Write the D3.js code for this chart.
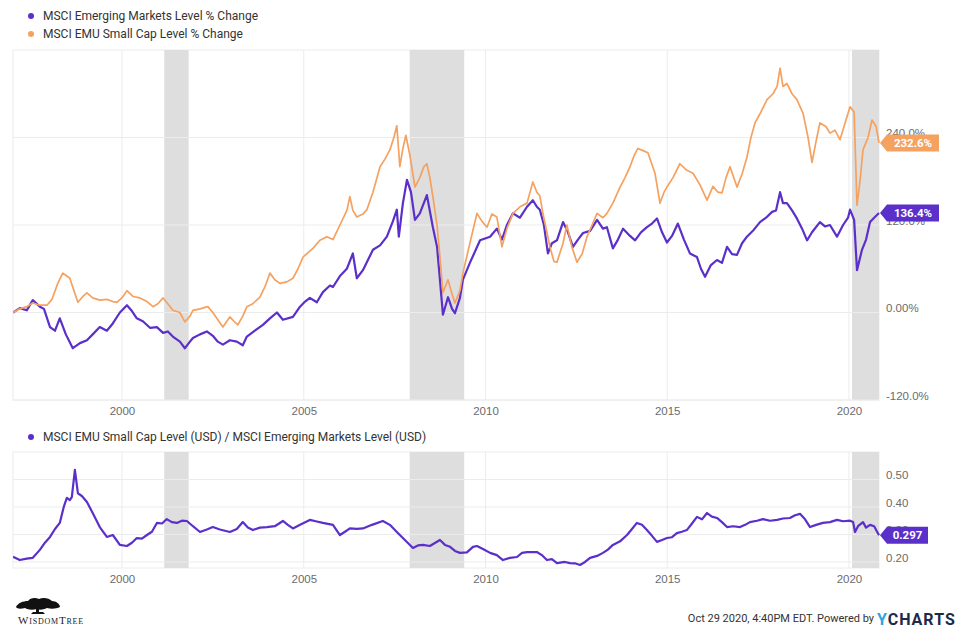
<!DOCTYPE html>
<html>
<head>
<meta charset="utf-8">
<script src="https://cdn.jsdelivr.net/npm/d3@7"></script>
<style>
  html, body { margin: 0; padding: 0; background: #fff; }
  svg { display: block; font-family: Roboto, "Noto Sans", "Liberation Sans", sans-serif; }
</style>
</head>
<body>
<svg id="chart" width="962" height="630"></svg>
<script>
// ---------------- DATA ----------------
const legendTop = ["MSCI Emerging Markets Level % Change", "MSCI EMU Small Cap Level % Change"];
const legendBottom = "MSCI EMU Small Cap Level (USD) / MSCI Emerging Markets Level (USD)";
const xTickYears = [2000, 2005, 2010, 2015, 2020];
const topTicks = [-120, 0, 120, 240];
const topTickLabels = ["-120.0%", "0.00%", "120.0%", "240.0%"];
const bottomTicks = [0.2, 0.3, 0.4, 0.5];
const bottomTickLabels = ["0.20", "0.30", "0.40", "0.50"];
const recessions = [["2001-03-01", "2001-11-01"], ["2007-12-01", "2009-06-01"], ["2020-02-01", "2020-10-29"]];
const footerText = "Oct 29 2020, 4:40PM EDT. Powered by";

// MSCI Emerging Markets level % change
const emSeries = [
["1997-01-01",0],["1997-03-10",6],["1997-05-19",3],["1997-07-19",17],["1997-09-28",8],["1997-11-08",5],
["1998-01-08",-20],["1998-02-27",-25],["1998-04-16",-8],["1998-06-16",-30],["1998-08-25",-49],["1998-11-05",-42],
["1999-01-14",-38],["1999-03-13",-30],["1999-05-23",-20],["1999-08-02",-25],["1999-10-01",-15],["1999-12-11",0],
["2000-02-20",10],["2000-04-10",2],["2000-05-29",-8],["2000-07-29",-12],["2000-10-08",-21],["2000-12-17",-20],
["2001-02-17",-28],["2001-04-06",-26],["2001-05-26",-33],["2001-08-05",-40],["2001-09-24",-49],["2001-11-14",-40],["2001-12-14",-35],
["2002-02-23",-30],["2002-05-03",-26],["2002-07-02",-32],["2002-08-21",-40],["2002-10-11",-44],["2002-12-20",-38],
["2003-02-28",-40],["2003-04-29",-45],["2003-06-09",-33],["2003-08-28",-25],["2003-11-17",-17],
["2004-01-27",-8],["2004-04-06",0],["2004-06-05",-10],["2004-09-14",-6],["2004-11-24",8],
["2005-01-14",15],["2005-03-03",20],["2005-05-12",14],["2005-07-12",28],["2005-09-21",37],["2005-10-21",35],["2005-12-30",50],
["2006-03-10",60],["2006-05-09",81],["2006-06-18",47],["2006-08-18",58],["2006-11-27",86],
["2007-02-06",92],["2007-04-16",104],["2007-06-15",125],["2007-07-25",141],["2007-08-14",104],["2007-09-24",150],["2007-11-04",182],["2007-12-14",165],
["2008-01-23",127],["2008-03-12",136],["2008-05-22",161],["2008-07-21",117],["2008-09-01",90],["2008-09-30",45],["2008-10-30",-3],["2008-12-20",21],
["2009-01-30",5],["2009-02-28",-1],["2009-04-19",20],["2009-05-19",45],["2009-07-28",68],["2009-11-07",99],
["2010-02-16",104],["2010-04-25",115],["2010-06-15",100],["2010-08-04",120],["2010-10-04",136],["2010-12-13",130],
["2011-02-22",145],["2011-04-22",154],["2011-06-01",145],["2011-07-01",141],["2011-08-11",120],["2011-09-20",81],["2011-10-30",95],["2011-12-20",99],
["2012-02-19",124],["2012-04-09",110],["2012-05-28",90],["2012-07-18",100],["2012-09-07",109],["2012-11-17",112],
["2013-01-26",127],["2013-03-26",115],["2013-05-05",117],["2013-07-04",88],["2013-08-24",100],["2013-10-14",115],["2013-12-23",105],
["2014-02-12",99],["2014-04-12",110],["2014-06-11",117],["2014-08-01",122],["2014-09-20",129],["2014-11-10",110],["2014-12-29",96],
["2015-02-18",105],["2015-04-18",122],["2015-06-18",100],["2015-08-17",81],["2015-10-27",76],["2015-12-06",60],
["2016-01-16",49],["2016-03-15",65],["2016-05-15",72],["2016-07-04",68],["2016-08-24",90],["2016-10-13",80],["2016-12-02",79],
["2017-01-22",95],["2017-03-12",104],["2017-05-11",112],["2017-07-21",124],["2017-09-20",130],["2017-11-19",138],["2017-12-29",140],
["2018-02-08",165],["2018-03-09",150],["2018-04-18",150],["2018-06-08",140],["2018-07-27",129],["2018-09-17",115],["2018-11-06",99],["2018-12-26",110],
["2019-03-15",124],["2019-05-05",118],["2019-06-24",120],["2019-09-03",104],["2019-11-03",120],["2019-12-23",130],
["2020-01-12",141],["2020-02-22",127],["2020-03-22",58],["2020-05-11",86],["2020-06-21",100],["2020-07-31",124],["2020-09-10",130],["2020-10-29",136.4]
];

// MSCI EMU Small Cap level % change
const emuSeries = [
["1997-01-01",0],["1997-03-10",5],["1997-05-19",8],["1997-07-19",13],["1997-09-28",10],["1997-12-08",10],
["1998-01-27",18],["1998-03-27",40],["1998-05-16",54],["1998-06-26",50],["1998-07-26",47],["1998-09-05",30],["1998-10-15",14],["1998-12-04",22],
["1999-01-14",27],["1999-03-13",20],["1999-05-23",17],["1999-08-02",18],["1999-10-01",15],["1999-11-11",14],["1999-12-31",20],
["2000-02-20",30],["2000-04-20",22],["2000-06-29",20],["2000-09-08",15],["2000-11-08",8],["2000-12-27",12],
["2001-02-17",20],["2001-04-06",12],["2001-05-26",3],["2001-08-05",0],["2001-09-24",-13],["2001-11-14",-5],["2001-12-14",3],
["2002-02-23",5],["2002-05-13",8],["2002-07-02",0],["2002-08-21",-10],["2002-10-11",-20],["2002-11-20",-12],["2002-12-20",-6],
["2003-01-30",-12],["2003-03-10",-17],["2003-04-29",-5],["2003-06-09",8],["2003-08-08",12],["2003-10-18",21],["2003-12-07",35],
["2004-01-27",54],["2004-03-16",45],["2004-05-06",40],["2004-07-15",42],["2004-09-14",47],["2004-11-04",60],["2004-12-24",76],
["2005-02-13",82],["2005-04-03",88],["2005-06-12",99],["2005-08-21",104],["2005-10-21",100],["2005-12-30",120],
["2006-03-10",140],["2006-04-09",159],["2006-05-09",140],["2006-06-18",131],["2006-08-18",135],["2006-09-27",141],["2006-11-27",165],
["2007-02-06",200],["2007-03-26",210],["2007-05-16",223],["2007-06-25",240],["2007-07-25",256],["2007-08-24",200],["2007-09-24",225],["2007-10-24",243],["2007-12-04",215],
["2008-01-23",172],["2008-03-12",185],["2008-04-22",200],["2008-05-22",204],["2008-06-21",185],["2008-07-21",159],["2008-09-01",120],["2008-09-30",76],["2008-10-30",27],["2008-12-20",45],
["2009-01-30",25],["2009-02-28",13],["2009-04-19",30],["2009-05-19",54],["2009-07-28",95],["2009-10-07",136],["2009-11-27",125],
["2010-01-16",117],["2010-03-06",135],["2010-04-25",131],["2010-06-15",90],["2010-08-04",115],["2010-10-04",136],["2010-12-13",145],
["2011-02-22",150],["2011-04-22",179],["2011-06-01",165],["2011-07-01",160],["2011-08-01",136],["2011-09-10",110],["2011-10-10",90],["2011-11-20",70],["2011-12-20",69],
["2012-02-19",95],["2012-03-29",120],["2012-05-18",90],["2012-07-08",69],["2012-08-28",80],["2012-10-17",104],["2012-12-07",120],
["2013-01-26",136],["2013-03-26",130],["2013-05-05",136],["2013-07-04",150],["2013-09-14",172],["2013-11-03",185],["2013-12-23",200],
["2014-02-02",215],["2014-03-12",225],["2014-05-02",222],["2014-06-21",219],["2014-08-31",191],["2014-10-20",150],["2014-11-30",165],["2014-12-29",172],
["2015-02-28",185],["2015-05-08",204],["2015-07-17",195],["2015-09-17",191],["2015-11-26",175],
["2016-02-05",154],["2016-04-05",173],["2016-05-25",165],["2016-07-04",164],["2016-08-14",185],["2016-09-23",200],["2016-12-02",172],
["2017-01-22",190],["2017-03-12",213],["2017-04-21",240],["2017-06-01",260],["2017-07-31",275],["2017-09-30",292],["2017-11-29",300],
["2018-01-09",310],["2018-02-08",335],["2018-03-09",310],["2018-04-18",314],["2018-06-08",300],["2018-07-27",292],["2018-09-27",273],["2018-11-16",240],["2018-12-26",206],
["2019-02-05",235],["2019-03-15",260],["2019-05-15",255],["2019-06-24",246],["2019-08-13",250],["2019-10-03",237],["2019-11-23",260],
["2020-01-12",282],["2020-02-22",275],["2020-03-22",147],["2020-04-21",180],["2020-05-21",223],["2020-07-11",240],["2020-08-20",264],["2020-09-30",255],["2020-10-29",232.6]
];

// MSCI EMU Small Cap Level / MSCI Emerging Markets Level (USD)
const ratioSeries = [
["1997-01-01",0.219],["1997-03-10",0.207],["1997-05-19",0.212],["1997-07-19",0.215],["1997-09-28",0.244],["1997-11-18",0.27],
["1998-01-08",0.291],["1998-02-27",0.32],["1998-04-16",0.342],["1998-05-26",0.40],["1998-06-26",0.433],["1998-07-26",0.425],["1998-08-15",0.436],["1998-09-15",0.535],["1998-10-15",0.45],["1998-11-24",0.44],
["1999-01-14",0.418],["1999-03-13",0.378],["1999-05-23",0.327],["1999-08-02",0.291],["1999-10-01",0.298],["1999-12-11",0.262],
["2000-02-20",0.258],["2000-04-10",0.27],["2000-05-29",0.287],["2000-07-19",0.285],["2000-09-08",0.298],["2000-10-28",0.31],["2000-12-17",0.342],
["2001-02-07",0.34],["2001-03-26",0.356],["2001-05-16",0.345],["2001-07-05",0.342],["2001-08-25",0.35],["2001-10-14",0.349],["2001-12-14",0.33],
["2002-02-23",0.309],["2002-05-03",0.318],["2002-07-02",0.327],["2002-09-11",0.318],["2002-12-20",0.309],
["2003-02-28",0.32],["2003-04-29",0.345],["2003-06-19",0.325],["2003-08-08",0.316],["2003-10-18",0.325],["2003-12-27",0.327],
["2004-03-16",0.33],["2004-06-05",0.349],["2004-07-25",0.335],["2004-09-14",0.322],["2004-11-24",0.335],
["2005-03-03",0.353],["2005-05-12",0.347],["2005-07-12",0.342],["2005-10-21",0.335],["2005-12-30",0.298],
["2006-02-19",0.31],["2006-04-09",0.322],["2006-06-18",0.32],["2006-08-18",0.322],["2006-11-17",0.335],
["2007-03-06",0.349],["2007-05-16",0.335],["2007-07-25",0.309],["2007-10-14",0.28],
["2008-01-03",0.251],["2008-02-22",0.26],["2008-04-12",0.262],["2008-06-21",0.258],["2008-09-30",0.28],["2008-11-20",0.262],
["2009-01-10",0.255],["2009-02-28",0.24],["2009-04-19",0.233],["2009-06-28",0.235],["2009-08-28",0.255],["2009-10-07",0.258],["2009-12-16",0.245],
["2010-02-16",0.233],["2010-04-25",0.225],["2010-06-25",0.207],["2010-09-04",0.215],["2010-11-13",0.218],
["2011-01-03",0.233],["2011-02-22",0.236],["2011-06-01",0.236],["2011-07-21",0.225],["2011-09-10",0.207],["2011-10-30",0.21],["2011-12-20",0.196],
["2012-03-09",0.2],["2012-04-29",0.196],["2012-06-18",0.195],["2012-08-08",0.189],["2012-09-27",0.2],["2012-11-17",0.215],
["2013-01-26",0.222],["2013-03-26",0.233],["2013-05-15",0.245],["2013-07-04",0.262],["2013-09-14",0.275],["2013-11-23",0.298],
["2014-01-12",0.32],["2014-03-02",0.342],["2014-04-22",0.335],["2014-06-11",0.316],["2014-08-01",0.295],["2014-09-20",0.273],["2014-11-10",0.28],["2014-12-29",0.287],
["2015-02-18",0.29],["2015-04-08",0.305],["2015-05-28",0.31],["2015-07-17",0.316],["2015-09-07",0.34],["2015-10-27",0.364],["2015-12-16",0.355],
["2016-02-05",0.378],["2016-03-25",0.365],["2016-05-15",0.36],["2016-07-04",0.345],["2016-08-24",0.327],["2016-10-23",0.33],
["2017-01-02",0.327],["2017-02-22",0.335],["2017-04-11",0.345],["2017-06-21",0.35],["2017-08-20",0.356],["2017-10-30",0.35],
["2018-01-09",0.353],["2018-03-09",0.358],["2018-05-18",0.36],["2018-07-08",0.37],["2018-08-27",0.375],["2018-10-17",0.355],["2018-12-06",0.327],
["2019-02-05",0.335],["2019-04-14",0.342],["2019-06-24",0.345],["2019-09-03",0.353],["2019-11-03",0.348],
["2020-01-12",0.35],["2020-02-12",0.345],["2020-03-02",0.309],["2020-04-01",0.33],["2020-05-21",0.345],["2020-06-21",0.325],["2020-07-31",0.335],["2020-09-10",0.33],["2020-10-29",0.297]
];

// ---------------- DRAW ----------------
const PURPLE = "#5b2fc9", ORANGE = "#f5a15f";
const parse = d3.timeParse("%Y-%m-%d");
const toPts = s => s.map(d => ({ date: parse(d[0]), value: d[1] }));
const em = toPts(emSeries), emu = toPts(emuSeries), ratio = toPts(ratioSeries);

const svg = d3.select("#chart");
const L = 13, R = 879;
const top1 = 50, bot1 = 400, top2 = 452, bot2 = 568;

const x = d3.scaleTime().domain([parse("1997-01-01"), parse("2020-10-29")]).range([L, R]);
const yTop = d3.scaleLinear().domain([-120, 360]).range([bot1, top1]);
const yBot = d3.scaleLinear().domain([0.178, 0.6]).range([bot2, top2]);
const yearDates = xTickYears.map(y => new Date(y, 0, 1));

function panel(y, y0, y1, ticks, labels, clipId) {
  const g = svg.append("g");
  g.append("rect").attr("x", L).attr("y", y1).attr("width", R - L).attr("height", y0 - y1)
    .attr("fill", "#fff").attr("stroke", "#ececec").attr("stroke-width", 1);
  g.selectAll("rect.rec").data(recessions).join("rect").attr("class", "rec")
    .attr("x", d => x(parse(d[0]))).attr("width", d => x(parse(d[1])) - x(parse(d[0])))
    .attr("y", y1).attr("height", y0 - y1).attr("fill", "#dedede");
  g.selectAll("line.hg").data(ticks).join("line").attr("class", "hg")
    .attr("x1", L).attr("x2", R).attr("y1", d => y(d)).attr("y2", d => y(d))
    .attr("stroke", "#ececec").attr("stroke-width", 1);
  g.selectAll("line.vg").data(yearDates).join("line").attr("class", "vg")
    .attr("x1", d => x(d)).attr("x2", d => x(d)).attr("y1", y1).attr("y2", y0)
    .attr("stroke", "#ececec").attr("stroke-width", 1);
  const ya = g.append("g").attr("transform", `translate(${R + 7},0)`)
    .call(d3.axisRight(y).tickValues(ticks).tickSize(0).tickPadding(0)
      .tickFormat((d, i) => labels[i]));
  ya.select(".domain").remove();
  ya.selectAll("text").attr("fill", "#6b6b6b").attr("font-size", 11.5).attr("dy", "-0.05em");
  const xa = g.append("g").attr("transform", `translate(0,${y0})`)
    .call(d3.axisBottom(x).tickValues(yearDates).tickSize(0).tickPadding(7)
      .tickFormat(d3.timeFormat("%Y")));
  xa.select(".domain").remove();
  xa.selectAll("text").attr("fill", "#6b6b6b").attr("font-size", 11.5);
  svg.append("clipPath").attr("id", clipId).append("rect")
    .attr("x", L).attr("y", y1 - 2).attr("width", R - L + 2).attr("height", y0 - y1 + 4);
}

panel(yTop, bot1, top1, topTicks, topTickLabels, "c1");
panel(yBot, bot2, top2, bottomTicks, bottomTickLabels, "c2");

const lineTop = d3.line().x(d => x(d.date)).y(d => yTop(d.value));
const lineBot = d3.line().x(d => x(d.date)).y(d => yBot(d.value));

svg.append("path").datum(em).attr("d", lineTop).attr("fill", "none")
  .attr("stroke", PURPLE).attr("stroke-width", 2.2).attr("stroke-linejoin", "round").attr("clip-path", "url(#c1)");
svg.append("path").datum(emu).attr("d", lineTop).attr("fill", "none")
  .attr("stroke", ORANGE).attr("stroke-width", 1.7).attr("stroke-linejoin", "round").attr("clip-path", "url(#c1)");
svg.append("path").datum(ratio).attr("d", lineBot).attr("fill", "none")
  .attr("stroke", PURPLE).attr("stroke-width", 2.2).attr("stroke-linejoin", "round").attr("clip-path", "url(#c2)");

// value flags (drawn over the tick labels they cover, as in the original)
function flag(yPos, text, color, w) {
  const tip = R + 1, h = 8.5, a = 7;
  const g = svg.append("g");
  g.append("path").attr("d",
    `M${tip},${yPos} L${tip + a},${yPos - h} L${tip + a + w},${yPos - h} L${tip + a + w},${yPos + h} L${tip + a},${yPos + h} Z`)
    .attr("fill", color);
  g.append("text").attr("x", tip + a + w / 2).attr("y", yPos).attr("dy", "0.35em")
    .attr("text-anchor", "middle").attr("fill", "#fff").attr("font-size", 11.5).attr("font-weight", 700)
    .text(text);
}
const lastEm = em[em.length - 1], lastEmu = emu[emu.length - 1], lastRatio = ratio[ratio.length - 1];
flag(yTop(lastEmu.value), d3.format(".1f")(lastEmu.value) + "%", ORANGE, 52);
flag(yTop(lastEm.value), d3.format(".1f")(lastEm.value) + "%", PURPLE, 52);
flag(yBot(lastRatio.value), d3.format(".3f")(lastRatio.value), PURPLE, 41);

// legends
const lg = svg.append("g");
[[legendTop[0], PURPLE, 16], [legendTop[1], ORANGE, 34], [legendBottom, PURPLE, 437]].forEach(([t, c, yy]) => {
  lg.append("circle").attr("cx", 31).attr("cy", yy).attr("r", 3).attr("fill", c);
  lg.append("text").attr("x", 43).attr("y", yy).attr("dy", "0.35em").attr("font-size", 12)
    .attr("fill", "#333").text(t);
});

// footer
svg.append("text").attr("x", 874).attr("y", 622).attr("text-anchor", "end")
  .attr("font-size", 11).attr("fill", "#333").text(footerText);
const yc = svg.append("text").attr("x", 877).attr("y", 625).attr("font-size", 16)
  .attr("font-weight", 700).attr("letter-spacing", 1);
yc.append("tspan").attr("fill", "#2aa8e0").text("Y");
yc.append("tspan").attr("fill", "#1c2a4a").text("CHARTS");

// WisdomTree logo
const logo = svg.append("g").attr("fill", "#111");
logo.append("path").attr("d",
  "M16,607 C18,603 23,601 28,601 C30,598 35,597 39,599 C43,597 49,598 52,601 C56,601 60,604 60,607 C56,609 51,609 47,608 C43,610 39,610 37,609 C33,610 28,610 25,608 C21,609 17,609 16,607 Z");
logo.append("rect").attr("x", 36).attr("y", 608).attr("width", 3).attr("height", 6);
logo.append("path").attr("d", "M31,614 L45,614 L43,612 L33,612 Z");
logo.append("text").attr("x", 18).attr("y", 624).attr("font-family", "'Liberation Serif', 'DejaVu Serif', serif")
  .attr("font-size", 11).attr("font-variant", "small-caps").attr("letter-spacing", 0.8).attr("fill", "#222")
  .text("WisdomTree");
</script>
</body>
</html>
